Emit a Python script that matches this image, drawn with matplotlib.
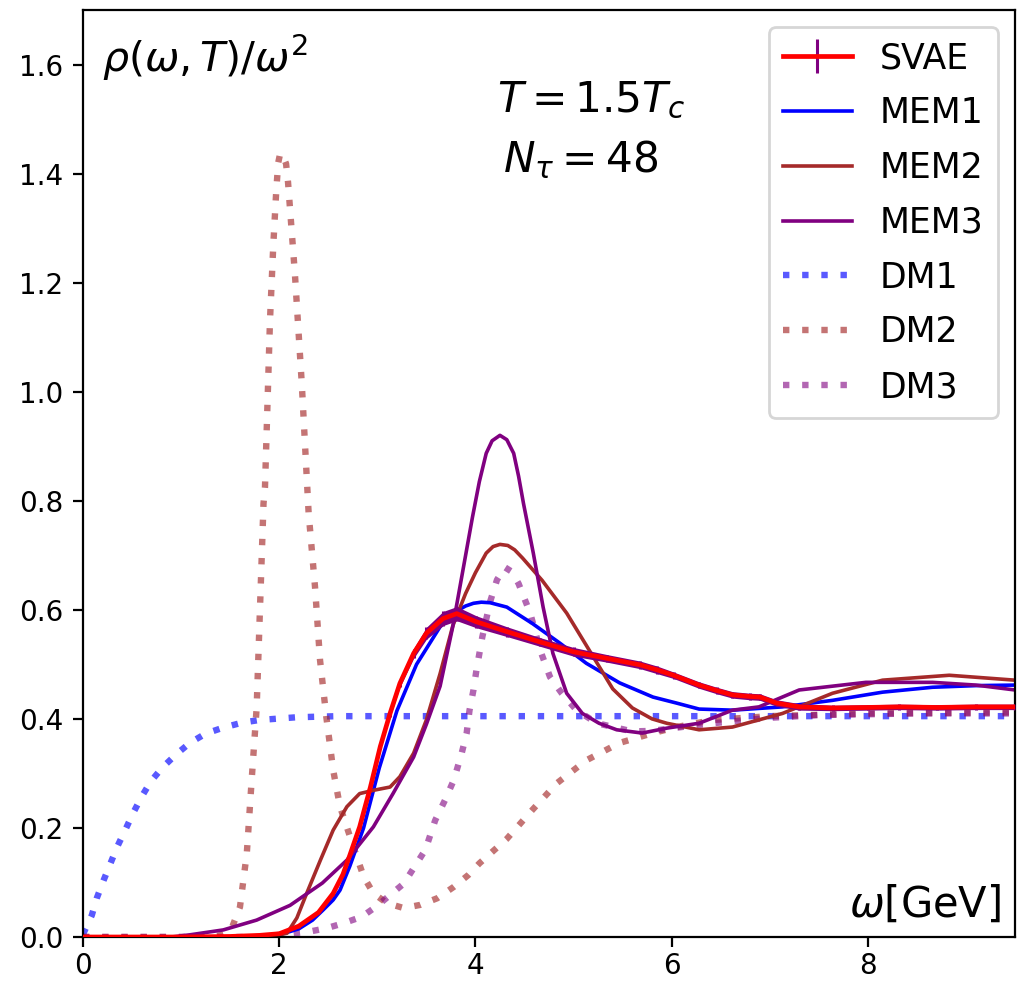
import numpy as np
import matplotlib.pyplot as plt

# reconstructed spectral functions rho(w,T)/w^2 at T = 1.5 Tc, N_tau = 48
x_svae = [0, 1.0, 1.5, 1.8, 2.0, 2.2, 2.4, 2.55, 2.65, 2.72, 2.82, 2.93, 3.03, 3.13, 3.23,
          3.37, 3.50, 3.67, 3.81, 4.01, 4.32, 4.66, 5.0, 5.34, 5.68, 5.85, 6.02, 6.28,
          6.46, 6.62, 6.80, 6.90, 7.07, 7.30, 7.64, 8.0, 8.32, 8.7, 9.1, 9.5]
y_svae = [0, 0, 0.001, 0.003, 0.006, 0.02, 0.045, 0.08, 0.115, 0.15, 0.202, 0.275, 0.349,
          0.41, 0.465, 0.52, 0.557, 0.584, 0.593, 0.578, 0.56, 0.541, 0.523, 0.511, 0.499,
          0.49, 0.48, 0.462, 0.452, 0.444, 0.441, 0.440, 0.429, 0.422, 0.420, 0.421, 0.422,
          0.421, 0.422, 0.422]
e_svae = [0, 0, 0, 0.001, 0.002, 0.003, 0.003, 0.004, 0.004, 0.004, 0.004, 0.005, 0.005,
          0.006, 0.007, 0.009, 0.011, 0.013, 0.013, 0.011, 0.009, 0.008, 0.008, 0.007, 0.007,
          0.007, 0.006, 0.006, 0.006, 0.006, 0.006, 0.006, 0.006, 0.006, 0.005, 0.005, 0.005,
          0.005, 0.005, 0.005]

x_mem1 = [0, 1.6, 2.0, 2.2, 2.34, 2.45, 2.55, 2.62, 2.72, 2.86, 3.02, 3.20, 3.40, 3.64, 3.80,
          3.90, 3.98, 4.06, 4.15, 4.32, 4.58, 4.86, 5.13, 5.47, 5.81, 6.05, 6.28, 6.62, 7.13,
          7.64, 8.15, 8.66, 9.1, 9.5]
y_mem1 = [0, 0, 0.004, 0.015, 0.031, 0.05, 0.068, 0.086, 0.13, 0.2, 0.31, 0.415, 0.5, 0.569,
          0.597, 0.607, 0.612, 0.614, 0.613, 0.605, 0.575, 0.539, 0.502, 0.466, 0.44, 0.429,
          0.418, 0.416, 0.422, 0.434, 0.449, 0.458, 0.461, 0.462]

x_mem2 = [0, 1.9, 2.08, 2.18, 2.28, 2.42, 2.55, 2.69, 2.82, 2.96, 3.13, 3.23, 3.37, 3.50, 3.64,
          3.77, 3.90, 4.00, 4.11, 4.18, 4.25, 4.33, 4.40, 4.48, 4.68, 4.93, 5.16, 5.40, 5.60,
          5.80, 5.95, 6.28, 6.62, 7.13, 7.64, 8.15, 8.83, 9.5]
y_mem2 = [0, 0, 0.007, 0.035, 0.08, 0.141, 0.196, 0.239, 0.263, 0.269, 0.275, 0.294, 0.337,
          0.398, 0.483, 0.571, 0.63, 0.668, 0.704, 0.716, 0.72, 0.718, 0.71, 0.695, 0.654,
          0.594, 0.526, 0.455, 0.42, 0.40, 0.392, 0.38, 0.385, 0.41, 0.447, 0.471, 0.48, 0.471]

x_mem3 = [0, 0.9, 1.09, 1.43, 1.77, 2.11, 2.44, 2.69, 2.96, 3.16, 3.37, 3.50, 3.64, 3.77, 3.87,
          3.97, 4.04, 4.11, 4.17, 4.25, 4.32, 4.39, 4.44, 4.49, 4.59, 4.69, 4.79, 4.93, 5.09,
          5.26, 5.44, 5.70, 5.95, 6.28, 6.62, 6.89, 7.30, 7.98, 8.66, 9.1, 9.5]
y_mem3 = [0, 0, 0.004, 0.013, 0.031, 0.058, 0.099, 0.141, 0.202, 0.263, 0.33, 0.39, 0.46,
          0.57, 0.67, 0.77, 0.835, 0.887, 0.910, 0.920, 0.912, 0.887, 0.845, 0.795, 0.704,
          0.605, 0.52, 0.447, 0.41, 0.392, 0.38, 0.374, 0.383, 0.392, 0.416, 0.422, 0.453,
          0.467, 0.467, 0.462, 0.453]

x_dm1 = [0, 0.09, 0.14, 0.21, 0.28, 0.35, 0.43, 0.51, 0.60, 0.69, 0.81, 0.95, 1.09, 1.25,
         1.43, 1.62, 1.80, 2.18, 2.6, 3.5, 9.5]
y_dm1 = [0.005, 0.040, 0.071, 0.104, 0.135, 0.166, 0.196, 0.227, 0.258, 0.285, 0.311, 0.335,
         0.356, 0.373, 0.384, 0.393, 0.398, 0.403, 0.405, 0.405, 0.405]

x_dm2 = [0, 1.3, 1.45, 1.52, 1.6, 1.67, 1.72, 1.77, 1.84, 1.855, 1.906, 1.94, 1.97, 1.99, 2.01,
         2.04, 2.07, 2.09, 2.16, 2.23, 2.30, 2.365, 2.416, 2.48, 2.55, 2.62, 2.755, 2.86,
         2.96, 3.10, 3.27, 3.44, 3.61, 3.78, 3.93, 4.04, 4.32, 4.58, 4.83, 5.13, 5.47, 5.81,
         6.05, 6.42, 7.0, 8.0, 9.5]
y_dm2 = [0, 0, 0.005, 0.018, 0.055, 0.154, 0.29, 0.42, 0.795, 0.825, 1.131, 1.27, 1.369,
         1.42, 1.437, 1.432, 1.418, 1.384, 1.216, 1.015, 0.777, 0.642, 0.508, 0.404, 0.306,
         0.239, 0.166, 0.111, 0.080, 0.062, 0.053, 0.059, 0.071, 0.092, 0.114, 0.135, 0.18,
         0.233, 0.282, 0.324, 0.356, 0.374, 0.385, 0.398, 0.405, 0.41, 0.412]

x_dm3 = [0, 1.8, 2.11, 2.31, 2.48, 2.65, 2.84, 2.99, 3.13, 3.27, 3.38, 3.49, 3.59, 3.69, 3.78,
         3.86, 3.91, 3.94, 3.98, 4.01, 4.07, 4.15, 4.22, 4.30, 4.37, 4.44, 4.56, 4.66, 4.76,
         4.88, 5.03, 5.24, 5.6, 5.8, 6.1, 6.42, 7.0, 7.5, 8.5, 9.5]
y_dm3 = [0, 0, 0.006, 0.01, 0.016, 0.025, 0.037, 0.056, 0.077, 0.098, 0.129, 0.16, 0.214,
         0.251, 0.288, 0.337, 0.373, 0.416, 0.453, 0.489, 0.55, 0.615, 0.655, 0.678, 0.67,
         0.648, 0.593, 0.526, 0.477, 0.447, 0.416, 0.392, 0.377, 0.378, 0.385, 0.392, 0.402,
         0.407, 0.41, 0.41]

fig = plt.figure(figsize=(1017 / 200, 982 / 200), dpi=200)
ax = fig.add_axes([83 / 1017, 45 / 982, 932 / 1017, 927 / 982])

dots = (0, (1, 2))
ax.plot(x_dm1, y_dm1, color='blue', alpha=0.65, lw=2.3, ls=dots, label='DM1')
ax.plot(x_dm2, y_dm2, color='brown', alpha=0.65, lw=2.3, ls=dots, label='DM2')
ax.plot(x_dm3, y_dm3, color='purple', alpha=0.6, lw=2.3, ls=dots, label='DM3')

ax.plot(x_mem1, y_mem1, color='blue', lw=1.3, label='MEM1')
ax.plot(x_mem2, y_mem2, color='brown', lw=1.3, label='MEM2')
ax.plot(x_mem3, y_mem3, color='purple', lw=1.3, label='MEM3')

ys = np.array(y_svae)
es = np.array(e_svae)
ax.fill_between(x_svae, ys - es, ys + es, color='purple', lw=0, zorder=3)
ax.errorbar(x_svae, y_svae, yerr=e_svae, color='red', ecolor='purple', lw=1.7,
            elinewidth=1.1, zorder=4, label='SVAE')

ax.set_xlim(0, 9.5)
ax.set_ylim(0, 1.7)
ax.set_xticks([0, 2, 4, 6, 8])
ax.set_yticks([0.0, 0.2, 0.4, 0.6, 0.8, 1.0, 1.2, 1.4, 1.6])
ax.tick_params(labelsize=10)
ax.tick_params(axis='x', pad=2)

ax.text(0.02, 0.975, r'$\rho(\omega,T)/\omega^2$', transform=ax.transAxes,
        fontsize=14.8, va='top', ha='left')
ax.text(0.985, 0.012, r'$\omega$[GeV]', transform=ax.transAxes,
        fontsize=15, va='bottom', ha='right')
ax.text(4.22, 1.535, r'$T=1.5T_c$', fontsize=15.2, va='center', ha='left')
ax.text(4.28, 1.425, r'$N_\tau=48$', fontsize=15.2, va='center', ha='left')

h, l = ax.get_legend_handles_labels()
order = ['SVAE', 'MEM1', 'MEM2', 'MEM3', 'DM1', 'DM2', 'DM3']
hd = dict(zip(l, h))
ax.legend([hd[k] for k in order], order, loc='upper right', fontsize=12.5,
          labelspacing=0.6)

fig.savefig('out.png', dpi=200)
